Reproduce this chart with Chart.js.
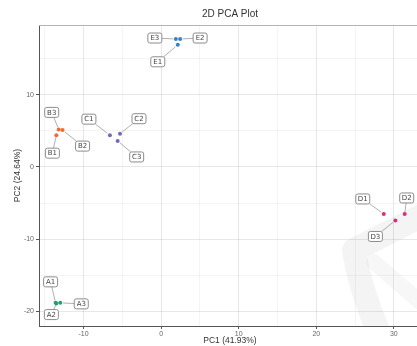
<!DOCTYPE html>
<html>
<head>
<meta charset="utf-8">
<script src="https://cdn.jsdelivr.net/npm/chart.js@4.4.1/dist/chart.umd.min.js"></script>
<style>
  html, body { margin: 0; padding: 0; background: #fff; overflow: hidden; }
  #wrap { width: 425px; height: 346px; }
</style>
</head>
<body>
<div id="wrap"><canvas id="pca"></canvas></div>
<script>
// sample scores on the first two principal components
const groups = ['A', 'B', 'C', 'D', 'E'];
const samples = [
  ['A1', 'A2', 'A3'],
  ['B1', 'B2', 'B3'],
  ['C1', 'C2', 'C3'],
  ['D1', 'D2', 'D3'],
  ['E1', 'E2', 'E3']
];
const pc1 = [
  [-13.6, -13.5, -13.0],
  [-13.5, -12.7, -13.2],
  [-6.6, -5.3, -5.6],
  [28.7, 31.4, 30.2],
  [2.15, 2.45, 1.9]
];
const pc2 = [
  [-18.8, -18.9, -18.8],
  [4.4, 5.1, 5.2],
  [4.4, 4.6, 3.6],
  [-6.5, -6.5, -7.4],
  [16.9, 17.7, 17.7]
];
const xTicks = [-15, -10, -5, 0, 5, 10, 15, 20, 25, 30];
const yTicks = [-20, -15, -10, -5, 0, 5, 10, 15];

const groupColors = ['#2a9d78', '#f26a2e', '#6f6bb8', '#e0287f', '#3b7fc4'];

// where each repelled label box sits relative to its point (px)
const labelShift = {
  A1: [-5, -21], A2: [-5, 11], A3: [21, 1],
  B1: [-4, 18], B2: [20, 16], B3: [-7, -17],
  C1: [-21, -16], C2: [19, -15], C3: [19, 16],
  D1: [-21, -15], D2: [2, -16], D3: [-20, 16],
  E1: [-20, 17], E2: [20, -1], E3: [-21, -1]
};

const datasets = groups.map(function (g, gi) {
  return {
    label: g,
    names: samples[gi],
    data: pc1[gi].map(function (x, i) { return { x: x, y: pc2[gi][i] }; }),
    backgroundColor: groupColors[gi],
    borderColor: groupColors[gi],
    pointRadius: 2,
    pointBorderWidth: 0
  };
});

// faint logo stamp in the lower right corner
const stampPlugin = {
  id: 'stamp',
  beforeDatasetsDraw: function (chart) {
    const ctx = chart.ctx, a = chart.chartArea;
    ctx.save();
    ctx.beginPath();
    ctx.rect(a.left, a.top, a.right - a.left, a.bottom - a.top);
    ctx.clip();
    ctx.lineCap = 'round';
    ctx.lineJoin = 'round';
    ctx.strokeStyle = 'rgba(0,0,0,0.045)';
    ctx.lineWidth = 24;
    ctx.beginPath();
    ctx.moveTo(425, 214);
    ctx.lineTo(354, 250);
    ctx.quadraticCurveTo(360, 290, 380, 335);
    ctx.stroke();
    ctx.strokeStyle = 'rgba(0,0,0,0.03)';
    ctx.lineWidth = 16;
    ctx.beginPath();
    ctx.moveTo(374, 262);
    ctx.lineTo(420, 302);
    ctx.stroke();
    ctx.restore();
  }
};

// panel frame on top plus the centred plot title
const framePlugin = {
  id: 'frame',
  afterDraw: function (chart) {
    const ctx = chart.ctx, a = chart.chartArea;
    ctx.save();
    ctx.strokeStyle = '#b5b5b5';
    ctx.lineWidth = 1;
    ctx.beginPath();
    ctx.moveTo(a.left, a.top + 0.5);
    ctx.lineTo(a.right, a.top + 0.5);
    ctx.moveTo(a.right - 0.5, a.top);
    ctx.lineTo(a.right - 0.5, a.bottom);
    ctx.stroke();
    ctx.fillStyle = '#333';
    ctx.font = '10px "Liberation Sans", Arial, sans-serif';
    ctx.textAlign = 'center';
    ctx.textBaseline = 'middle';
    ctx.fillText('2D PCA Plot', (a.left + a.right) / 2, 14);
    ctx.restore();
  }
};

function roundRect(ctx, x, y, w, h, r) {
  ctx.beginPath();
  ctx.moveTo(x + r, y);
  ctx.lineTo(x + w - r, y);
  ctx.quadraticCurveTo(x + w, y, x + w, y + r);
  ctx.lineTo(x + w, y + h - r);
  ctx.quadraticCurveTo(x + w, y + h, x + w - r, y + h);
  ctx.lineTo(x + r, y + h);
  ctx.quadraticCurveTo(x, y + h, x, y + h - r);
  ctx.lineTo(x, y + r);
  ctx.quadraticCurveTo(x, y, x + r, y);
  ctx.closePath();
}

// sample name boxes with leader segments back to the point
const labelPlugin = {
  id: 'sampleLabels',
  afterDatasetsDraw: function (chart) {
    const ctx = chart.ctx;
    const bw = 14, bh = 10;
    ctx.save();
    ctx.font = '7px "DejaVu Sans", sans-serif';
    ctx.textAlign = 'center';
    ctx.textBaseline = 'middle';
    chart.data.datasets.forEach(function (ds, di) {
      const meta = chart.getDatasetMeta(di);
      meta.data.forEach(function (pt, i) {
        const name = ds.names[i];
        const s = labelShift[name];
        const cx = pt.x + s[0], cy = pt.y + s[1];
        // clip the segment at the box edge
        const dx = pt.x - cx, dy = pt.y - cy;
        const k = Math.min(
          dx !== 0 ? (bw / 2) / Math.abs(dx) : Infinity,
          dy !== 0 ? (bh / 2) / Math.abs(dy) : Infinity
        );
        ctx.strokeStyle = '#9a9a9a';
        ctx.lineWidth = 0.8;
        ctx.beginPath();
        ctx.moveTo(cx + dx * k, cy + dy * k);
        ctx.lineTo(pt.x - dx * 0.12, pt.y - dy * 0.12);
        ctx.stroke();
        roundRect(ctx, cx - bw / 2, cy - bh / 2, bw, bh, 2);
        ctx.fillStyle = '#fff';
        ctx.fill();
        ctx.strokeStyle = '#8c8c8c';
        ctx.lineWidth = 1;
        ctx.stroke();
        ctx.fillStyle = '#444';
        ctx.fillText(name, cx, cy + 0.5);
      });
    });
    ctx.restore();
  }
};

function gridColor(c) {
  return c.tick && c.tick.value % 10 === 0 ? 'rgba(0,0,0,0.09)' : 'rgba(0,0,0,0.045)';
}
function tickColor(c) {
  return c.tick && c.tick.value % 10 === 0 ? '#555' : 'rgba(0,0,0,0)';
}
const tickFont = { family: '"Liberation Sans", Arial, sans-serif', size: 7 };
const titleFont = { family: '"Liberation Sans", Arial, sans-serif', size: 8.5 };

new Chart(document.getElementById('pca'), {
  type: 'scatter',
  data: { datasets: datasets },
  plugins: [stampPlugin, labelPlugin, framePlugin],
  options: {
    responsive: true,
    maintainAspectRatio: false,
    animation: false,
    layout: { padding: { top: 25, right: 4, left: 13, bottom: 0 } },
    plugins: {
      legend: { display: false },
      tooltip: { enabled: false },
      title: { display: false }
    },
    scales: {
      x: {
        type: 'linear',
        min: -15.74,
        max: 33.5,
        afterBuildTicks: function (scale) {
          scale.ticks = xTicks.map(function (v) { return { value: v }; });
        },
        afterFit: function (scale) { scale.height = 20; },
        ticks: {
          color: '#666',
          font: tickFont,
          padding: 1,
          maxRotation: 0,
          autoSkip: false,
          callback: function (v) { return v % 10 === 0 ? v : ''; }
        },
        grid: { color: gridColor, tickColor: tickColor, tickLength: 3, lineWidth: 1 },
        border: { color: '#555', width: 1 },
        title: { display: true, text: 'PC1 (41.93%)', color: '#333', font: titleFont, padding: 0 }
      },
      y: {
        type: 'linear',
        min: -22.0,
        max: 19.64,
        afterBuildTicks: function (scale) {
          scale.ticks = yTicks.map(function (v) { return { value: v }; });
        },
        afterFit: function (scale) { scale.width = 26; },
        ticks: {
          color: '#666',
          font: tickFont,
          padding: 2,
          autoSkip: false,
          callback: function (v) { return v % 10 === 0 ? v : ''; }
        },
        grid: { color: gridColor, tickColor: tickColor, tickLength: 3, lineWidth: 1 },
        border: { color: '#555', width: 1 },
        title: { display: true, text: 'PC2 (24.64%)', color: '#333', font: titleFont, padding: 0 }
      }
    }
  }
});
</script>
</body>
</html>
